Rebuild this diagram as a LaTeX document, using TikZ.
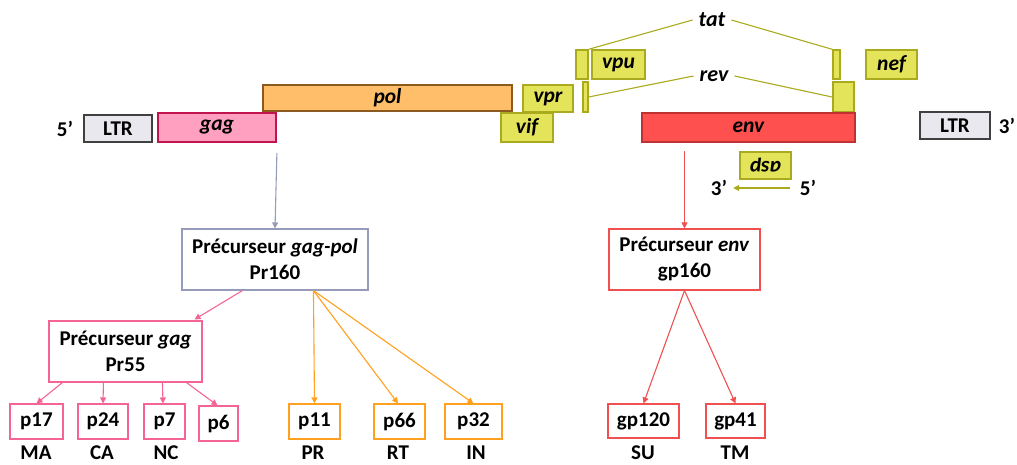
\documentclass[tikz,border=0pt]{standalone}
\usepackage{fontspec}
\setmainfont{Carlito}
\usetikzlibrary{arrows.meta,calc}
\definecolor{ltrfill}{RGB}{232,232,238}
\definecolor{ltrdraw}{RGB}{64,64,64}
\definecolor{gagfill}{RGB}{255,160,192}
\definecolor{gagdraw}{RGB}{192,20,80}
\definecolor{polfill}{RGB}{255,190,105}
\definecolor{poldraw}{RGB}{140,90,30}
\definecolor{yfill}{RGB}{228,228,90}
\definecolor{ydraw}{RGB}{170,170,30}
\definecolor{envfill}{RGB}{255,80,80}
\definecolor{envdraw}{RGB}{190,50,50}
\definecolor{pinkl}{RGB}{245,100,150}
\definecolor{orangel}{RGB}{255,160,30}
\definecolor{redl}{RGB}{240,80,80}
\definecolor{greyl}{RGB}{150,155,185}
\tikzset{
  gene/.style={draw, line width=1.8pt, inner sep=0pt, font=\fontsize{21.5}{24}\selectfont\bfseries\itshape},
  ybox/.style={gene, fill=yfill, draw=ydraw},
  prot/.style={draw, line width=1.1pt, fill=white, inner sep=0pt, align=center, font=\fontsize{21}{26}\selectfont\bfseries},
  lab/.style={font=\fontsize{21}{24}\selectfont\bfseries, inner sep=0pt},
  arr/.style={line width=1.1pt, -{Triangle[length=6pt,width=6pt]}},
}
\begin{document}
\begin{tikzpicture}[x=1pt,y=-1pt]
\useasboundingbox (0,0) rectangle (1017,465);
% genome
\node[lab] (five) at (65,128.5) {5’};
\node[gene, fill=ltrfill, draw=ltrdraw, minimum width=68pt, minimum height=27pt, font=\fontsize{21}{24}\selectfont\bfseries] (ltrL) at (118,128.5) {LTR};
\node[gene, fill=gagfill, draw=gagdraw, minimum width=118pt, minimum height=29pt] (gag) at (217,127.5) {gag};
\node[gene, fill=polfill, draw=poldraw, minimum width=249pt, minimum height=26pt] (pol) at (387.5,98) {pol};
\node[ybox, minimum width=50pt, minimum height=27pt] (vpr) at (548,98.5) {vpr};
\node[ybox, minimum width=52pt, minimum height=29pt] (vif) at (527,127.5) {vif};
\node[ybox, minimum width=12pt, minimum height=29pt, line width=1.5pt] (vpubar) at (582,64.5) {};
\node[ybox, minimum width=53pt, minimum height=29pt] (vpu) at (618.5,64.5) {vpu};
\node[ybox, minimum width=5pt, minimum height=30pt, line width=1.3pt] (revL) at (585.5,97) {};
\node[ybox, minimum width=7pt, minimum height=29pt, line width=1.3pt] (tatR) at (836.5,64.5) {};
\node[ybox, minimum width=21pt, minimum height=30pt] (revR) at (843.5,97) {};
\node[ybox, minimum width=51pt, minimum height=29pt] (nef) at (891.5,64.5) {nef};
\node[gene, fill=envfill, draw=envdraw, minimum width=213pt, minimum height=29pt] (env) at (748.5,127.5) {env};
\node[gene, fill=ltrfill, draw=ltrdraw, minimum width=70pt, minimum height=27pt, font=\fontsize{21}{24}\selectfont\bfseries] (ltrR) at (955,125.5) {LTR};
\node[lab] (three) at (1007,125.5) {3’};
% tat / rev
\node[font=\fontsize{22}{24}\selectfont\bfseries\itshape, inner sep=6pt] (tat) at (712,20) {tat};
\node[font=\fontsize{22}{24}\selectfont\bfseries\itshape, inner sep=6pt] (rev) at (714,76) {rev};
\draw[ydraw, line width=1.1pt] (vpubar.north east) -- (tat.west);
\draw[ydraw, line width=1.1pt] (tat.east) -- (tatR.north west);
\draw[ydraw, line width=1.1pt] (revL.east) -- (rev.west);
\draw[ydraw, line width=1.1pt] (rev.east) -- (revR.west);
% asp
\node[ybox, minimum width=51pt, minimum height=27pt, rotate=180] (asp) at (765.5,165.5) {asp};
\node[lab] (asp5) at (808,188) {5’};
\node[lab] (asp3) at (719,188) {3’};
\draw[ydraw, line width=1.1pt, -{Triangle[length=6pt,width=6pt]}] ($(asp5.west)+(-10,0)$) -- ($(asp3.east)+(6,0)$);
% precursors
\node[prot, draw=greyl, minimum width=186pt, minimum height=61pt] (gagpol) at (275,259.5) {Précurseur \textit{gag-pol}\\Pr160};
\node[prot, draw=pinkl, minimum width=153pt, minimum height=61pt] (gagbox) at (125.5,351.5) {Précurseur \textit{gag}\\Pr55};
\node[prot, draw=redl, minimum width=151pt, minimum height=61pt] (envbox) at (684.5,259.5) {Précurseur \textit{env}\\gp160};
\draw[arr, greyl] ($(gag.south east)+(0,10)$) -- (gagpol.north);
\draw[arr, redl] ($(envbox.north)+(0,-77)$) -- (envbox.north);
% gag products
\node[prot, draw=pinkl, minimum width=53pt, minimum height=35pt] (p17) at (36.5,421.5) {p17};
\node[prot, draw=pinkl, minimum width=50pt, minimum height=35pt] (p24) at (103,421.5) {p24};
\node[prot, draw=pinkl, minimum width=41pt, minimum height=35pt] (p7) at (164.5,421.5) {p7};
\node[prot, draw=pinkl, minimum width=39pt, minimum height=35pt] (p6) at (218.5,423.5) {p6};
\node[lab] (ma) at (36,452.5) {MA};
\node[lab] (ca) at (102,452.5) {CA};
\node[lab] (nc) at (166,452.5) {NC};
\draw[arr, pinkl] ($(gagpol.south west)+(61,0)$) -- ($(gagbox.north east)+(-8,-1)$);
\draw[arr, pinkl] ($(gagbox.south west)+(14,0)$) -- (p17.north);
\draw[arr, pinkl] ($(gagbox.south west)+(55,0)$) -- (p24.north);
\draw[arr, pinkl] ($(gagbox.south west)+(114,0)$) -- ($(p7.north)+(-1.5,0)$);
\draw[arr, pinkl] ($(gagbox.south west)+(138,0)$) -- ($(p6.north)+(-1,0)$);
% pol products
\node[prot, draw=orangel, minimum width=51pt, minimum height=35pt] (p11) at (314.5,421.5) {p11};
\node[prot, draw=orangel, minimum width=51pt, minimum height=35pt] (p66) at (399.5,421.5) {p66};
\node[prot, draw=orangel, minimum width=57pt, minimum height=35pt] (p32) at (473.5,421.5) {p32};
\node[lab] (pr) at (313,452.5) {PR};
\node[lab] (rt) at (398,452.5) {RT};
\node[lab] (in) at (476,452.5) {IN};
\coordinate (polsrc) at ($(gagpol.south west)+(132,0)$);
\draw[arr, orangel] (polsrc) -- (p11.north);
\draw[arr, orangel] (polsrc) -- ($(p66.north)+(-1.5,0)$);
\draw[arr, orangel] (polsrc) -- (p32.north);
% env products
\node[prot, draw=redl, minimum width=71pt, minimum height=34pt] (gp120) at (643.5,421) {gp120};
\node[prot, draw=redl, minimum width=59pt, minimum height=34pt] (gp41) at (735.5,421) {gp41};
\node[lab] (su) at (643,452.5) {SU};
\node[lab] (tm) at (735,452.5) {TM};
\draw[arr, redl] (envbox.south) -- (gp120.north);
\draw[arr, redl] (envbox.south) -- (gp41.north);
\end{tikzpicture}
\end{document}
